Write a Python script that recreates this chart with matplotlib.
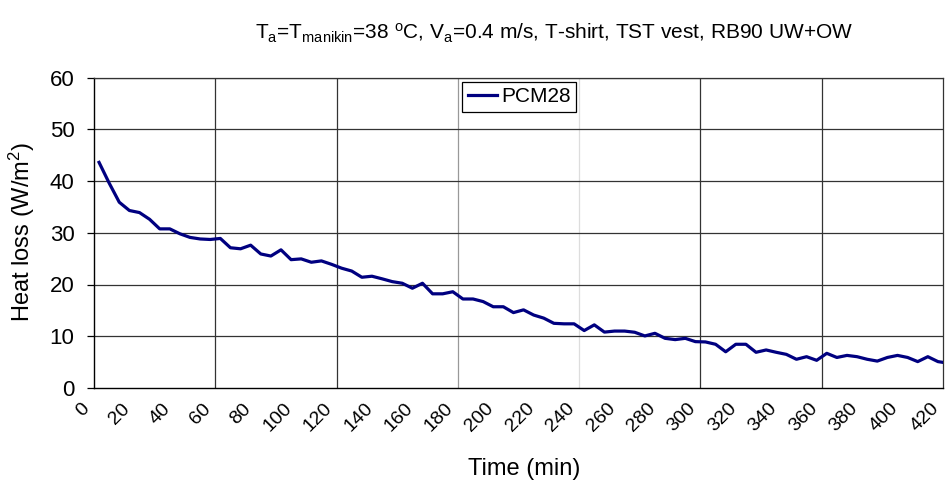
import numpy as np
import matplotlib
matplotlib.use("Agg")
import matplotlib.pyplot as plt
from matplotlib.ticker import MultipleLocator
import matplotlib.transforms as mtransforms

plt.rcParams['font.family'] = ['Liberation Sans', 'DejaVu Sans']
plt.rcParams['mathtext.fontset'] = 'custom'
plt.rcParams['mathtext.rm'] = 'Liberation Sans'
plt.rcParams['mathtext.it'] = 'Liberation Sans'

# ---- data ----
time_min = [2.5, 7.5, 12.5, 17.5, 22.5, 27.5, 32.5, 37.5, 42.5, 47.5,
            52.5, 57.5, 62.5, 67.5, 72.5, 77.5, 82.5, 87.5, 92.5, 97.5,
            102.5, 107.5, 112.5, 117.5, 122.5, 127.5, 132.5, 137.5, 142.5, 147.5,
            152.5, 157.5, 162.5, 167.5, 172.5, 177.5, 182.5, 187.5, 192.5, 197.5,
            202.5, 207.5, 212.5, 217.5, 222.5, 227.5, 232.5, 237.5, 242.5, 247.5,
            252.5, 257.5, 262.5, 267.5, 272.5, 277.5, 282.5, 287.5, 292.5, 297.5,
            302.5, 307.5, 312.5, 317.5, 322.5, 327.5, 332.5, 337.5, 342.5, 347.5,
            352.5, 357.5, 362.5, 367.5, 372.5, 377.5, 382.5, 387.5, 392.5, 397.5,
            402.5, 407.5, 412.5, 417.5, 422.5]
pcm28 = [43.6, 39.6, 35.9, 34.3, 33.9, 32.6, 30.75, 30.75, 29.8, 29.1,
         28.8, 28.7, 28.9, 27.1, 26.9, 27.6, 25.9, 25.5, 26.7, 24.8,
         24.95, 24.3, 24.56, 23.9, 23.15, 22.6, 21.4, 21.6, 21.1, 20.56,
         20.24, 19.28, 20.24, 18.2, 18.2, 18.6, 17.2, 17.2, 16.7, 15.7,
         15.7, 14.57, 15.1, 14.1, 13.5, 12.5, 12.4, 12.4, 11.1, 12.2,
         10.8, 11.0, 11.0, 10.77, 10.06, 10.57, 9.6, 9.35, 9.6, 8.96,
         8.9, 8.45, 7.0, 8.45, 8.45, 6.9, 7.35, 6.9, 6.5, 5.55,
         6.05, 5.35, 6.7, 5.9, 6.3, 6.05, 5.55, 5.2, 5.9, 6.3,
         5.9, 5.1, 6.05, 5.1, 4.8]
x_ticks = list(range(0, 421, 20))
x_grid = [60, 120, 180, 240, 300, 360]
x_grid_colors = ['#333333', '#333333', '#999999', '#dddddd', '#333333', '#333333']
y_ticks = [0, 10, 20, 30, 40, 50, 60]

W, H = 946, 482
fig = plt.figure(figsize=(W / 100, H / 100), dpi=100)
ax = fig.add_axes([94 / W, 1 - 388 / H, (943 - 94) / W, (388 - 77.5) / H])

for xg, c in zip(x_grid, x_grid_colors):
    ax.axvline(xg, color=c, lw=0.9, zorder=1)
for yg in y_ticks[1:]:
    ax.axhline(yg, color='#333333', lw=0.9, zorder=1)

ax.plot(time_min, pcm28, color='#000080', lw=2.3, label='PCM28', zorder=3,
        solid_joinstyle='round')

ax.set_xlim(0, 420)
ax.set_ylim(0, 60)
ax.set_xticks(x_ticks)
ax.xaxis.set_minor_locator(MultipleLocator(60))
ax.tick_params(axis='x', which='major', length=0, pad=13)
ax.tick_params(axis='x', which='minor', length=8, direction='inout', width=0.9)
ax.set_yticks(y_ticks)
ax.tick_params(axis='y', which='major', length=5, direction='out', width=0.9,
               labelsize=16, pad=9)
ax.set_xticklabels([str(v) for v in x_ticks], rotation=45, ha='right', va='center',
                   rotation_mode='anchor', fontsize=14)
shift = mtransforms.ScaledTranslation(-7 / 100, 0, fig.dpi_scale_trans)
for lab in ax.get_xticklabels():
    lab.set_transform(lab.get_transform() + shift)

for s in ['left', 'bottom']:
    ax.spines[s].set_color('black')
    ax.spines[s].set_linewidth(1.0)
for s in ['top', 'right']:
    ax.spines[s].set_color('#333333')
    ax.spines[s].set_linewidth(0.9)

fig.text(22 / W, 1 - 232 / H, 'Heat loss (W/m$^\\mathregular{2}$)', rotation=90,
         ha='center', va='center', fontsize=17)
fig.text(524 / W, 1 - 469 / H, 'Time (min)', ha='center', va='center', fontsize=17)

fig.text(554 / W, 1 - 33 / H,
         r'T$_\mathregular{a}$=T$_\mathregular{manikin}$=38 $^\mathregular{o}$C, '
         r'V$_\mathregular{a}$=0.4 m/s, T-shirt, TST vest, RB90 UW+OW',
         ha='center', va='center', fontsize=15)

leg = ax.legend(loc='center', bbox_to_anchor=(519 / W, 1 - 97 / H),
                bbox_transform=fig.transFigure, fontsize=15, frameon=True,
                fancybox=False, handlelength=1.4, handletextpad=0.2,
                borderpad=0.25, borderaxespad=0)
leg.get_frame().set_edgecolor('black')
leg.get_frame().set_linewidth(0.9)
leg.get_frame().set_alpha(1)

fig.savefig('out.png', dpi=100)
